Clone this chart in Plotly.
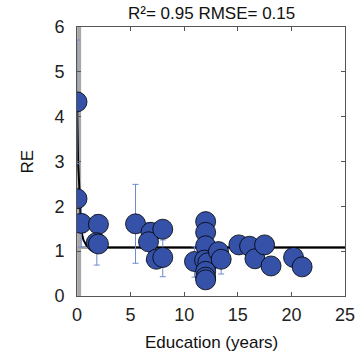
import plotly.graph_objects as go

# data points
edu = [0.0, 0.0, 0.4, 2.0, 1.8, 2.0, 5.46, 6.9, 6.67, 8.0, 7.4, 8.0, 10.96,
       12.0, 12.0, 12.0, 11.9, 12.2, 12.0, 12.0, 12.0, 13.2, 13.45,
       15.1, 16.1, 16.6, 17.5, 18.1, 20.2, 21.0]
re = [4.33, 2.17, 1.62, 1.60, 1.19, 1.16, 1.61, 1.42, 1.21, 1.49, 0.82, 0.86, 0.77,
      1.66, 1.42, 1.12, 0.80, 0.74, 0.55, 0.42, 0.36, 0.99, 0.82,
      1.14, 1.11, 0.83, 1.14, 0.67, 0.86, 0.65]

# points carrying error bars
err_x = [0.0, 0.4, 1.85, 5.46, 6.67, 8.0, 10.96, 13.45]
err_y = [4.33, 1.62, 1.25, 1.61, 1.21, 0.84, 0.76, 0.82]
err_v = [1.38, 0.53, 0.56, 0.88, 0.43, 0.41, 0.34, 0.33]

# fitted curve
fit_x = [0.0, 0.02, 0.1, 0.23, 0.3, 0.4, 0.6, 0.9, 1.5, 25.0]
fit_y = [4.40, 3.93, 3.00, 2.36, 1.90, 1.45, 1.25, 1.12, 1.08, 1.08]

asym_y = 1.08
vline_x = 0.2
title_txt = "R²= 0.95 RMSE= 0.15"
xticks = [0, 5, 10, 15, 20, 25]
yticks = [0, 1, 2, 3, 4, 5, 6]

FONT = "Arial, Liberation Sans, sans-serif"
blue = "#3552a8"
ebar = "#6f8ad0"

fig = go.Figure()
fig.add_trace(go.Scatter(x=[vline_x, vline_x], y=[0, 6], mode="lines",
                         line=dict(color="#a8a8a8", width=4), hoverinfo="skip"))
fig.add_trace(go.Scatter(x=[0, 25], y=[asym_y, asym_y], mode="lines",
                         line=dict(color="#a8a8a8", width=3), hoverinfo="skip"))
fig.add_trace(go.Scatter(x=fit_x, y=fit_y, mode="lines",
                         line=dict(color="black", width=2)))
fig.add_trace(go.Scatter(x=err_x, y=err_y, mode="markers",
                         marker=dict(size=2, opacity=0),
                         error_y=dict(type="data", array=err_v, visible=True,
                                      color=ebar, thickness=1, width=3)))
fig.add_trace(go.Scatter(x=edu, y=re, mode="markers",
                         marker=dict(size=20, color=blue,
                                     line=dict(color="black", width=0.8))))

axis_common = dict(showline=True, linecolor="#555", linewidth=1, mirror="ticks",
                   ticks="inside", ticklen=4, tickcolor="#555", showgrid=False,
                   zeroline=False, automargin=False,
                   tickfont=dict(family=FONT, size=18, color="#222"))
fig.update_xaxes(range=[0, 25], tickvals=xticks, ticklabelstandoff=2, **axis_common)
fig.update_yaxes(range=[0, 6], tickvals=yticks, ticklabelstandoff=8, **axis_common)

fig.update_layout(
    width=358, height=356, showlegend=False,
    margin=dict(l=77, r=13, t=27, b=60),
    plot_bgcolor="white", paper_bgcolor="white",
    annotations=[
        dict(text=title_txt, x=0.5, y=1, xref="paper", yref="paper",
             xanchor="center", yanchor="bottom", yshift=2, showarrow=False,
             font=dict(family=FONT, size=17, color="#111")),
        dict(text="Education (years)", x=0.5, y=0, xref="paper", yref="paper",
             xanchor="center", yanchor="middle", yshift=-46, showarrow=False,
             font=dict(family=FONT, size=17, color="#111")),
        dict(text="RE", x=0, y=0.5, xref="paper", yref="paper", textangle=-90,
             xanchor="center", yanchor="middle", xshift=-50, showarrow=False,
             font=dict(family=FONT, size=17, color="#111")),
    ],
)
fig.write_html("out.html", config={"displayModeBar": False},
               post_script="document.body.style.margin='0';document.body.style.padding='0';")
